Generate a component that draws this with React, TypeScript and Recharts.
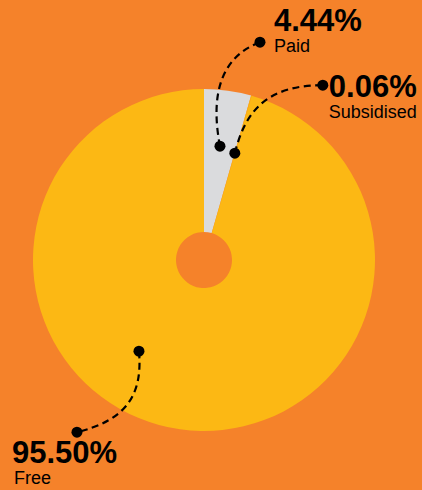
import React from "react";
import { PieChart, Pie, Cell } from "recharts";

const categories = ["Paid", "Subsidised", "Free"];
const values = [4.44, 0.06, 95.5];
const valueLabels = ["4.44%", "0.06%", "95.50%"];
const colors = ["#DADBDD", "#FCB814", "#FCB814"];

const BG = "#F5822A";
const FONT = "'Liberation Sans', Arial, Helvetica, sans-serif";

const data = categories.map((name, i) => ({ name, value: values[i], label: valueLabels[i] }));

// layout of the callouts (relative to the anchor dot inside each slice)
const callouts = [
  { rFrac: 0.672, angle: null as number | null, end: [40, -104], c1: [-8, -42], c2: [-5, -87], tx: 14, vy: -11, ny: 10 },
  { rFrac: 0.65, angle: null as number | null, end: [88, -68], c1: [10, -40], c2: [30, -68], tx: 6, vy: 12, ny: 33 },
  { rFrac: 0.655, angle: -125.5, end: [-62, 81], c1: [4, 44], c2: [-13, 69], tx: -65, vy: 31, ny: 52, nx: -63 },
];

const RAD = Math.PI / 180;

const renderLabel = (props: any) => {
  const { cx, cy, midAngle, outerRadius, index, payload } = props;
  const cfg: any = callouts[index];
  const ang = cfg.angle != null ? cfg.angle : midAngle;
  const r = outerRadius * cfg.rFrac;
  const dx = cx + r * Math.cos(-ang * RAD);
  const dy = cy + r * Math.sin(-ang * RAD);
  const ex = dx + cfg.end[0];
  const ey = dy + cfg.end[1];
  const p1 = [dx + cfg.c1[0], dy + cfg.c1[1]];
  const p2 = [dx + cfg.c2[0], dy + cfg.c2[1]];
  const d = `M${dx},${dy} C${p1[0]},${p1[1]} ${p2[0]},${p2[1]} ${ex},${ey}`;
  const nx = cfg.nx != null ? cfg.nx : cfg.tx;
  const lbl = payload && payload.label ? payload.label : valueLabels[index];
  const nm = payload && payload.name ? payload.name : categories[index];
  return (
    <g key={`lbl-${index}`}>
      <path d={d} fill="none" stroke="#000" strokeWidth={2.2} strokeDasharray="7 4.5" />
      <circle cx={dx} cy={dy} r={5.5} fill="#000" />
      <circle cx={ex} cy={ey} r={5.5} fill="#000" />
      <text x={ex + cfg.tx} y={ey + cfg.vy} fontFamily={FONT} fontWeight="bold" fontSize={31} fill="#000" textAnchor="start">
        {lbl}
      </text>
      <text x={ex + nx} y={ey + cfg.ny} fontFamily={FONT} fontSize={18} fill="#000" textAnchor="start">
        {nm}
      </text>
    </g>
  );
};

export default function App() {
  return (
    <div style={{ position: "fixed", left: 0, top: 0, width: 422, height: 490, background: BG, overflow: "hidden" }}>
      <PieChart width={422} height={490} margin={{ top: 0, right: 0, bottom: 0, left: 0 }}>
        <Pie
          data={data}
          dataKey="value"
          nameKey="name"
          cx={204}
          cy={260}
          outerRadius={171}
          innerRadius={28}
          startAngle={90}
          endAngle={-270}
          stroke="none"
          isAnimationActive={false}
          label={renderLabel}
          labelLine={false}
        >
          {data.map((d, i) => (
            <Cell key={d.name} fill={colors[i]} stroke="none" />
          ))}
        </Pie>
      </PieChart>
    </div>
  );
}
